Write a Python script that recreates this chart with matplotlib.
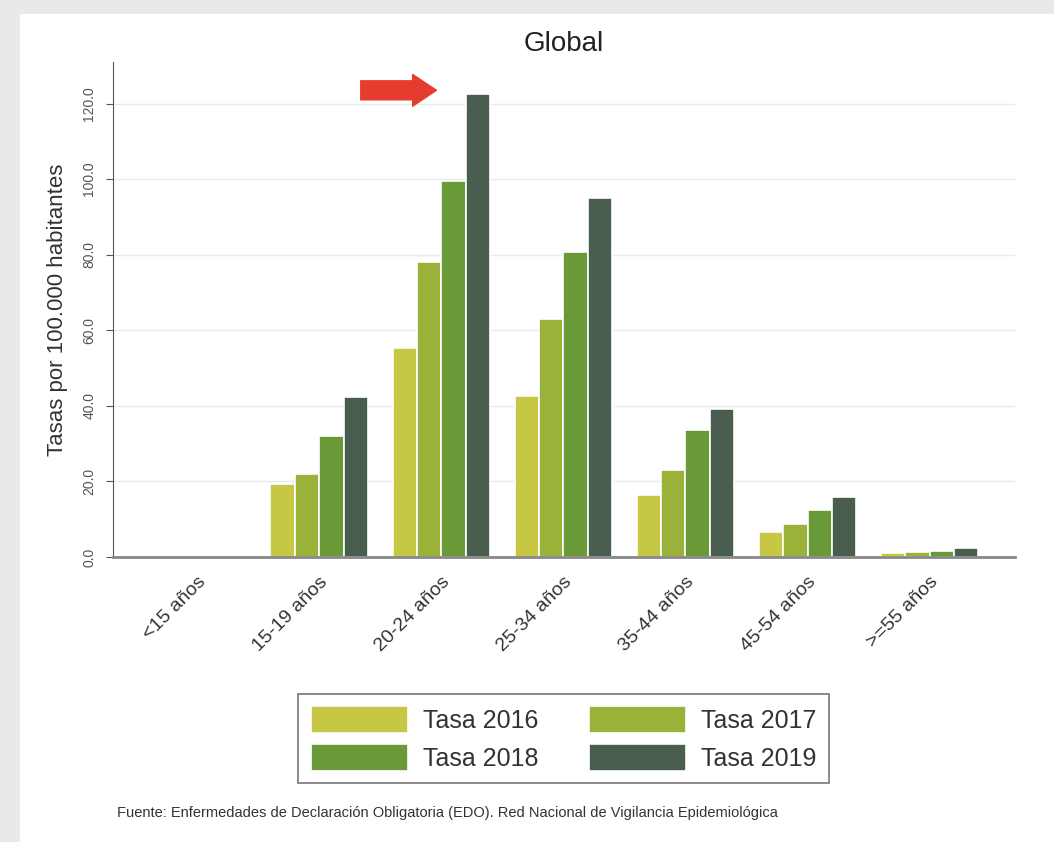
import matplotlib.pyplot as plt
import numpy as np
from matplotlib.patches import Rectangle

# Data
categories = ['<15 años', '15-19 años', '20-24 años', '25-34 años',
              '35-44 años', '45-54 años', '>=55 años']
tasa_2016 = [0.0, 19.3, 55.4, 42.7, 16.4, 6.5, 1.0]
tasa_2017 = [0.0, 21.9, 78.1, 63.0, 23.0, 8.7, 1.2]
tasa_2018 = [0.0, 32.1, 99.6, 80.8, 33.5, 12.5, 1.7]
tasa_2019 = [0.0, 42.4, 122.4, 95.1, 39.2, 15.8, 2.5]
series_labels = ['Tasa 2016', 'Tasa 2017', 'Tasa 2018', 'Tasa 2019']
yticks = [0, 20, 40, 60, 80, 100, 120]

colors = ['#c6c843', '#9ab13a', '#6a9a38', '#4a5e4f']
plt.rcParams['font.family'] = ['Liberation Sans', 'DejaVu Sans']

fig = plt.figure(figsize=(10.54, 8.42), dpi=100)
fig.patch.set_facecolor('#e9e9e9')
# white card
fig.add_artist(Rectangle((20 / 1054, 0), 1, 1 - 14 / 842, transform=fig.transFigure,
                         facecolor='white', edgecolor='none', zorder=0))

ax = fig.add_axes([0.1072, 0.3385, 0.8558, 0.5879])
ax.set_facecolor('none')

x = np.arange(len(categories))
w = 0.2
bars = []
for i, vals in enumerate([tasa_2016, tasa_2017, tasa_2018, tasa_2019]):
    b = ax.bar(x + (i - 1.5) * w, vals, width=w, color=colors[i], edgecolor='white',
               linewidth=1.2, label=series_labels[i], zorder=2)
    bars.append(b)

ax.set_xlim(-0.69, 6.7)
ax.set_ylim(0, 131)
ax.set_yticks(yticks)
ax.set_yticklabels([f'{v:.1f}' for v in yticks], rotation=90, va='center',
                   fontsize=10, color='#555555')
ax.yaxis.grid(True, color='#e4eeec', linewidth=1, zorder=0)
ax.set_axisbelow(True)
ax.set_xticks(x)
ax.set_xticklabels(categories, rotation=45, ha='right', rotation_mode='anchor',
                   fontsize=14, color='#333333')
ax.tick_params(axis='x', length=0, pad=12)
ax.tick_params(axis='y', length=5, color='#555555', pad=7)
for s in ['top', 'right']:
    ax.spines[s].set_visible(False)
ax.spines['left'].set_color('#555555')
ax.spines['bottom'].set_color('#888888')
ax.spines['bottom'].set_linewidth(2)

ax.set_ylabel('Tasas por 100.000 habitantes', fontsize=16, color='#333333', labelpad=10)
ax.set_title('Global', fontsize=20, color='#222222', pad=8)

# red arrow pointing at the 20-24 peak
ax.annotate('', xy=(1.96, 123.5), xytext=(1.34, 123.5),
            arrowprops=dict(arrowstyle='simple,head_length=0.45,head_width=0.6,tail_width=0.36',
                            mutation_scale=38, color='#e63c2f', shrinkA=0, shrinkB=0),
            annotation_clip=False)

# legend filled row by row: 2016, 2017 / 2018, 2019
order = [0, 2, 1, 3]
leg = fig.legend([bars[i] for i in order], [series_labels[i] for i in order],
                 loc='center', bbox_to_anchor=(0.5346, 0.1229), ncol=2, fontsize=18,
                 frameon=True, fancybox=False, edgecolor='#555555',
                 handlelength=3.9, handleheight=1.25, columnspacing=2.0,
                 labelspacing=0.45, borderpad=0.5, handletextpad=0.6)
leg.get_frame().set_linewidth(1.2)
for t in leg.get_texts():
    t.set_color('#333333')

fig.text(117 / 1054, 1 - 813 / 842,
         'Fuente: Enfermedades de Declaración Obligatoria (EDO). Red Nacional de Vigilancia Epidemiológica',
         fontsize=10.5, color='#333333', va='center')

fig.savefig('out.png', dpi=100)
